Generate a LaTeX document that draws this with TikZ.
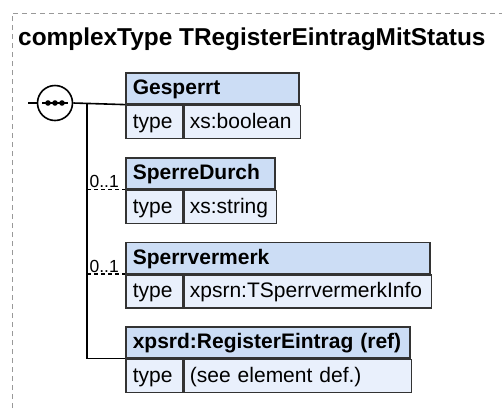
\documentclass[tikz,border=0pt]{standalone}
\usepackage{fontspec}
\setmainfont{Liberation Sans}
\usetikzlibrary{positioning}

\definecolor{headfill}{HTML}{CCDDF5}
\definecolor{rowfill}{HTML}{E9F0FC}
\definecolor{boxline}{HTML}{333333}
\definecolor{frameline}{HTML}{999999}

% Element box: name, top, width, label, type
\newcommand\xselem[5]{%
  \pgfmathsetmacro\hw{#3-14}%
  \pgfmathsetmacro\vw{#3-57-11}%
  \node[elemhead, text width=\hw pt] (#1) at (125,#2) {#4};
  \node[elemtype] (#1t) at (#1.south west) {type};
  \node[elemval, text width=\vw pt] (#1v) at (#1t.north east) {#5};
}

\begin{document}
\begin{tikzpicture}[x=1pt, y=-1pt, line join=miter,
  elemhead/.style={draw=boxline, line width=1.6pt, fill=headfill, anchor=north west,
    inner xsep=7pt, inner ysep=0pt, text height=22pt, text depth=9pt, align=left,
    font=\bfseries\fontsize{21}{25}\selectfont},
  elemtype/.style={draw=boxline, line width=1.6pt, fill=rowfill, anchor=north west,
    inner xsep=7pt, inner ysep=0pt, text width=43pt, text height=23pt, text depth=10pt,
    align=left, font=\fontsize{21}{25}\selectfont},
  elemval/.style={elemtype, inner xsep=5.5pt},
  occur/.style={anchor=base east, inner sep=0pt, font=\fontsize{17.5}{20}\selectfont},
  conn/.style={line width=1.6pt},
  optconn/.style={conn, dash pattern=on 4pt off 3pt}]

    \useasboundingbox (0,0) rectangle (502,408);

    % Frame
    \draw[frameline, line width=0.9pt, dash pattern=on 5pt off 4pt] (12,408) -- (12,13) -- (502,13);
    \node[anchor=base west, inner sep=0pt, font=\bfseries\fontsize{24.4}{29}\selectfont] (title)
      at (18,45) {complexType TRegisterEintragMitStatus};

    % Elements
    \xselem{gesperrt}{72}{173}{Gesperrt}{xs:boolean}
    \xselem{sperre}{157}{149}{SperreDurch}{xs:string}
    \xselem{vermerk}{241.5}{304}{Sperrvermerk}{xpsrn:TSperrvermerkInfo}
    \xselem{regeintrag}{326}{284}{xpsrd:RegisterEintrag (ref)}{(see element def.)}

    % Sequence
    \node[circle, draw, line width=1.6pt, minimum size=35pt, inner sep=0pt] (seq) at (55,103) {};
    \draw[conn] ([xshift=-13pt]seq.center) -- ([xshift=13pt]seq.center);
    \foreach \d in {-7,0,7}
      \fill ([xshift=\d pt]seq.center) circle (2.8pt);

    % Connectors
    \coordinate (seqin) at (28,103);
    \coordinate (bus) at (87,103);
    \draw[conn] (seqin) -- (seq.west);
    \draw[conn] (seq.east) -- (gesperrt.south west);
    \draw[conn] (bus) |- (regeintrag.south west);
    \draw[optconn] (bus |- sperre.south west) -- (sperre.south west);
    \draw[optconn] (bus |- vermerk.south west) -- (vermerk.south west);

    % Occurrences
    \node[occur] (sperreocc) at ([xshift=-6pt, yshift=2pt]sperre.south west) {0..1};
    \node[occur] (vermerkocc) at ([xshift=-6pt, yshift=2pt]vermerk.south west) {0..1};

\end{tikzpicture}
\end{document}
